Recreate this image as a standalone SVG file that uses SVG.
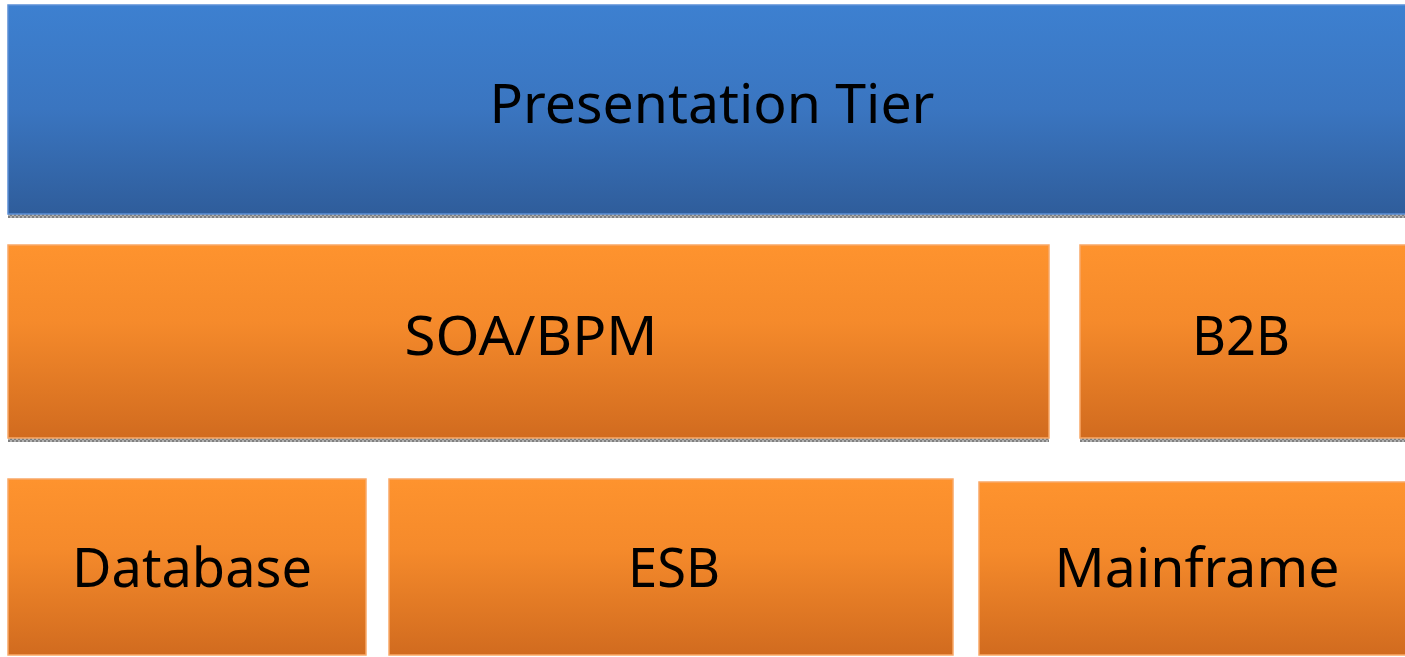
<svg xmlns="http://www.w3.org/2000/svg" width="1405" height="657" viewBox="0 0 1405 657">
<defs>
<linearGradient id="gBlue" x1="0" y1="0" x2="0" y2="1">
<stop offset="0" stop-color="#3d80d0"/>
<stop offset="0.5" stop-color="#3a75c0"/>
<stop offset="1" stop-color="#2f5d9b"/>
</linearGradient>
<linearGradient id="gOrange" x1="0" y1="0" x2="0" y2="1">
<stop offset="0" stop-color="#fe932e"/>
<stop offset="0.4" stop-color="#f58a2b"/>
<stop offset="1" stop-color="#d16b1f"/>
</linearGradient>
<pattern id="shadow" width="4" height="4" patternUnits="userSpaceOnUse">
<rect width="4" height="4" fill="#b0b0b0"/>
<rect width="2" height="2" fill="#808080"/>
<rect x="2" y="2" width="2" height="2" fill="#808080"/>
</pattern>
</defs>
<style>
.blue{fill:url(#gBlue);stroke:#5b8fd6;stroke-width:1.5}
.orange{fill:url(#gOrange);stroke:#f9a867;stroke-width:1.5}
.sh{fill:url(#shadow)}
text{font-family:"Noto Sans","Open Sans","DejaVu Sans",sans-serif;fill:#000;text-anchor:middle}
.big{font-size:54px}
</style>
<rect width="1405" height="657" fill="#ffffff"/>
<g id="presentation">
<rect class="sh" x="8" y="214" width="1400" height="4"/>
<rect class="blue" x="8" y="5" width="1402" height="209"/>
<text class="big" x="712" y="123" textLength="445" lengthAdjust="spacingAndGlyphs">Presentation Tier</text>
</g>
<g id="soabpm">
<rect class="sh" x="8" y="438" width="1041" height="4"/>
<rect class="orange" x="8" y="245" width="1041" height="193"/>
<text class="big" x="531" y="355" textLength="253" lengthAdjust="spacingAndGlyphs">SOA/BPM</text>
</g>
<g id="b2b">
<rect class="sh" x="1080" y="438" width="330" height="4"/>
<rect class="orange" x="1080" y="245" width="330" height="193"/>
<text class="big" x="1241" y="355" textLength="98" lengthAdjust="spacingAndGlyphs">B2B</text>
</g>
<g id="database">
<rect class="orange" x="8" y="479" width="358" height="176"/>
<text class="big" x="192" y="587" textLength="240" lengthAdjust="spacingAndGlyphs">Database</text>
</g>
<g id="esb">
<rect class="orange" x="389" y="479" width="564" height="176"/>
<text class="big" x="674" y="587" textLength="92" lengthAdjust="spacingAndGlyphs">ESB</text>
</g>
<g id="mainframe">
<rect class="orange" x="979" y="482" width="430" height="173"/>
<text class="big" x="1197" y="587" textLength="285" lengthAdjust="spacingAndGlyphs">Mainframe</text>
</g>
<g id="connectors"></g>
</svg>
